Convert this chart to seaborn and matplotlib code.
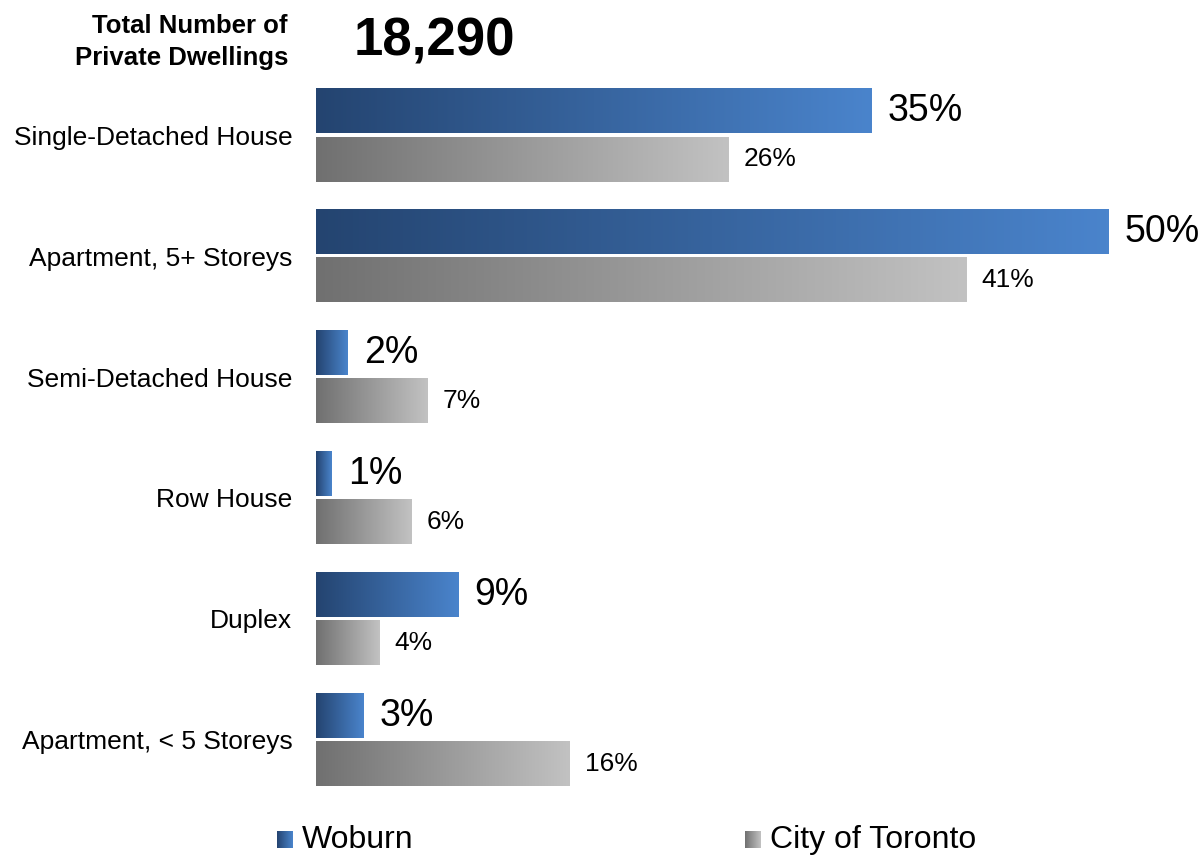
import numpy as np
import pandas as pd
import matplotlib
matplotlib.use('Agg')
import matplotlib.pyplot as plt
from matplotlib.colors import LinearSegmentedColormap
import seaborn as sns

# data
categories = ['Single-Detached House', 'Apartment, 5+ Storeys', 'Semi-Detached House',
              'Row House', 'Duplex', 'Apartment, < 5 Storeys']
woburn = [35, 50, 2, 1, 9, 3]
toronto = [26, 41, 7, 6, 4, 16]
total_dwellings = '18,290'

df = pd.DataFrame({
    'category': categories * 2,
    'value': woburn + toronto,
    'region': ['Woburn'] * len(categories) + ['City of Toronto'] * len(categories),
})

sns.set_style('white')
plt.rcParams['font.family'] = ['Liberation Sans', 'DejaVu Sans']
plt.rcParams['text.color'] = 'black'
plt.rcParams['ytick.color'] = 'black'

blue_cmap = LinearSegmentedColormap.from_list('blue', ['#244470', '#4A84CC'])
grey_cmap = LinearSegmentedColormap.from_list('grey', ['#707070', '#C2C2C2'])
cmaps = {'Woburn': blue_cmap, 'City of Toronto': grey_cmap}

fig = plt.figure(figsize=(12.04, 8.57), dpi=100)
ax = fig.add_axes([316 / 1204, 0.066, 793 / 1204, 0.847])

sns.barplot(data=df, y='category', x='value', hue='region', orient='h',
            palette={'Woburn': '#4A84CC', 'City of Toronto': '#A0A0A0'},
            width=0.8, gap=0.08, legend=False, ax=ax)

grad = np.linspace(0, 1, 256).reshape(1, -1)
# seaborn draws hue levels in order: first Woburn bars, then Toronto bars
n = len(categories)
for i, patch in enumerate(ax.patches):
    region = 'Woburn' if i < n else 'City of Toronto'
    vals = woburn if i < n else toronto
    x0, y0 = patch.get_x(), patch.get_y()
    w, h = patch.get_width(), patch.get_height()
    ax.imshow(grad, cmap=cmaps[region], aspect='auto',
              extent=[x0, x0 + w, y0 + h, y0], zorder=2)
    patch.set_visible(False)
    if region == 'Woburn':
        ax.annotate(f'{vals[i % n]}%', (x0 + w, y0 + h / 2), xytext=(11.5, 0),
                    textcoords='offset points', va='center', ha='left',
                    fontsize=27, annotation_clip=False)
    else:
        ax.annotate(f'{vals[i % n]}%', (x0 + w, y0 + h / 2), xytext=(11, 0),
                    textcoords='offset points', va='center', ha='left',
                    fontsize=19, annotation_clip=False)

ax.set_xlim(0, 50)
ax.set_ylim(len(categories) - 0.5, -0.5)
ax.set_xlabel('')
ax.set_ylabel('')
ax.set_xticks([])
ax.tick_params(axis='y', length=0, pad=17, labelsize=19)
for s in ax.spines.values():
    s.set_visible(False)

# header
fig.text(288 / 1204, 1 - 42 / 857, 'Total Number of\nPrivate Dwellings', ha='right', va='center',
         fontsize=18.5, fontweight='bold', linespacing=1.4)
fig.text(354 / 1204, 1 - 42 / 857, total_dwellings, ha='left', va='center',
         fontsize=38, fontweight='bold')

# legend with gradient squares
for (lx, label, cmap) in [(277, 'Woburn', blue_cmap), (745, 'City of Toronto', grey_cmap)]:
    lax = fig.add_axes([lx / 1204, 1 - 848 / 857, 16 / 1204, 17 / 857])
    lax.imshow(grad, cmap=cmap, aspect='auto')
    lax.axis('off')
    fig.text((lx + 25) / 1204, 1 - 840 / 857, label, ha='left', va='center', fontsize=23)

fig.savefig('out.png', dpi=100)
